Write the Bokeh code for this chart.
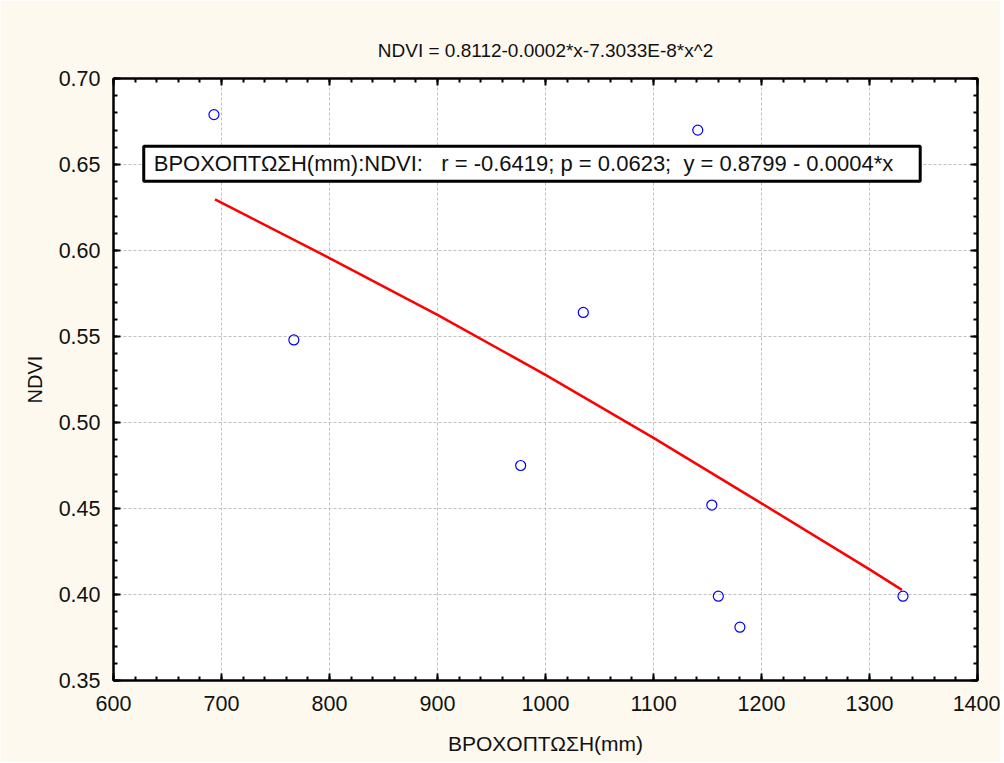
import numpy as np
from bokeh.plotting import figure
from bokeh.models import (LinearAxis, FixedTicker, NumeralTickFormatter, Range1d,
                          Label)
from bokeh.embed import file_html
from bokeh.resources import INLINE

# ---- data ----
rain_mm = [693, 767, 977, 1035, 1141, 1154, 1160, 1180, 1331]
ndvi = [0.679, 0.548, 0.475, 0.564, 0.670, 0.452, 0.399, 0.381, 0.399]

# fitted curve (as drawn in the reference)
fit_x = [694, 800, 900, 1000, 1100, 1200, 1300, 1330]
fit_y = [0.6297, 0.5956, 0.5626, 0.5277, 0.4911, 0.4530, 0.4146, 0.4027]

x_ticks = [600, 700, 800, 900, 1000, 1100, 1200, 1300, 1400]
y_ticks = [0.35, 0.40, 0.45, 0.50, 0.55, 0.60, 0.65, 0.70]

title_text = "NDVI = 0.8112-0.0002*x-7.3033E-8*x^2"
x_label = "ΒΡΟΧΟΠΤΩΣΗ(mm)"
y_label = "NDVI"
NB = "\u00a0"
box_text = ("ΒΡΟΧΟΠΤΩΣΗ(mm):NDVI:" + NB * 3 + "r = -0.6419; p = 0.0623;" + NB * 2
            + "y = 0.8799 - 0.0004*x")

FONT = "Liberation Sans"
BG = "#FDF9EF"

p = figure(width=1000, height=762, output_backend="svg", toolbar_location=None,
           x_range=Range1d(x_ticks[0], x_ticks[-1]),
           y_range=Range1d(y_ticks[0], y_ticks[-1]),
           x_axis_label=x_label, y_axis_label=y_label,
           min_border_left=113, min_border_right=23,
           min_border_top=78, min_border_bottom=82)

p.background_fill_color = "white"
p.border_fill_color = BG
p.outline_line_color = "black"
p.outline_line_width = 2

x_minor = list(np.arange(x_ticks[0], x_ticks[-1] + 1, 20))
y_minor = list(np.round(np.arange(y_ticks[0], y_ticks[-1] + 0.0001, 0.01), 2))
xt = FixedTicker(ticks=x_ticks, minor_ticks=x_minor)
yt = FixedTicker(ticks=y_ticks, minor_ticks=y_minor)


def style_axis(ax, show_labels=True):
    ax.axis_line_color = "black"
    ax.axis_line_width = 2
    ax.major_tick_in = 7
    ax.major_tick_out = 0
    ax.minor_tick_in = 4
    ax.minor_tick_out = 0
    ax.major_tick_line_width = 2
    ax.minor_tick_line_width = 2
    ax.major_tick_line_color = "black"
    ax.minor_tick_line_color = "black"
    if show_labels:
        ax.major_label_text_font = FONT
        ax.major_label_text_font_size = "21.5px"
        ax.major_label_text_color = "#111111"
        ax.axis_label_text_font = FONT
        ax.axis_label_text_font_size = "21px"
        ax.axis_label_text_font_style = "normal"
        ax.axis_label_text_color = "#111111"
    else:
        ax.major_label_overrides = {t: "" for t in ax.ticker.ticks}
        ax.major_label_standoff = 0


p.xaxis.ticker = xt
p.yaxis.ticker = yt
p.yaxis.formatter = NumeralTickFormatter(format="0.00")
style_axis(p.xaxis[0])
style_axis(p.yaxis[0])
p.yaxis.axis_label_text_font_size = "20px"
p.xaxis.major_label_standoff = 15
p.xaxis.axis_label_standoff = 18
p.yaxis.major_label_standoff = 13
p.yaxis.axis_label_standoff = 10

# top axis carries the chart title as its label
top = LinearAxis(ticker=xt, axis_label=title_text)
right = LinearAxis(ticker=yt)
style_axis(top, False)
style_axis(right, False)
top.axis_label_text_font = FONT
top.axis_label_text_font_size = "19px"
top.axis_label_text_font_style = "normal"
top.axis_label_text_color = "#111111"
top.axis_label_standoff = 18
p.add_layout(top, "above")
p.add_layout(right, "right")

p.xgrid.ticker = xt
p.ygrid.ticker = yt
for g in (p.xgrid, p.ygrid):
    g.grid_line_color = "#C0C0C0"
    g.grid_line_dash = "3 2"
    g.grid_line_width = 1

p.line(fit_x, fit_y, line_color="red", line_width=2.5, line_join="round")
p.scatter(rain_mm, ndvi, marker="circle", size=10, fill_color=None,
          line_color="blue", line_width=1.2)

lbl = Label(x=628, y=0.6505, text=box_text, text_font=FONT, text_font_size="22px",
            text_color="#111111", text_baseline="middle", text_align="left",
            background_fill_color="white", border_line_color="black",
            border_line_width=3, padding=(10, 27, 5, 5))
p.add_layout(lbl)

open("out.html", "w").write(file_html(p, INLINE))
